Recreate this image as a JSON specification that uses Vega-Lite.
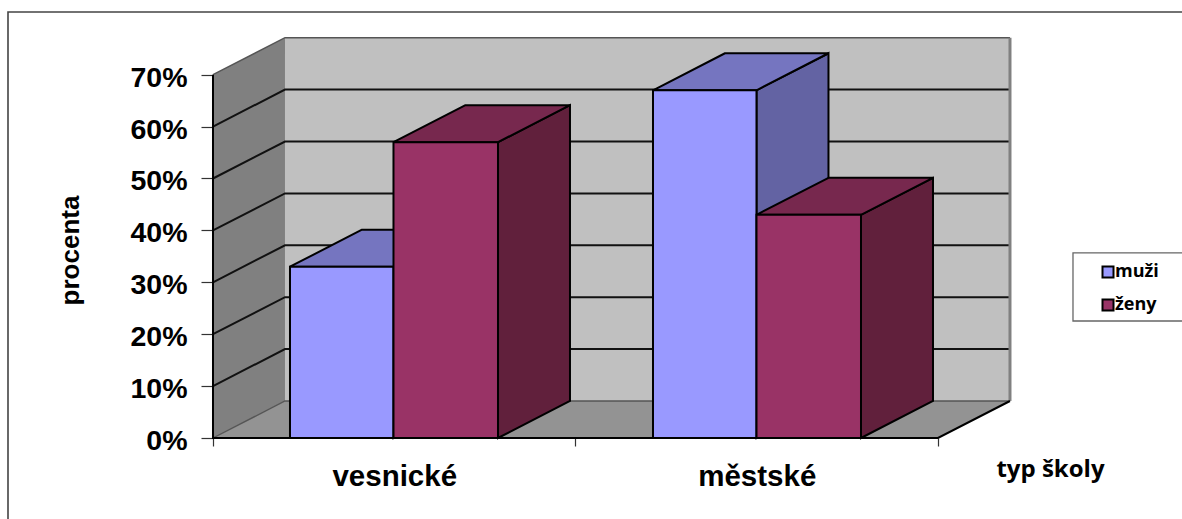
{
"$schema":"https://vega.github.io/schema/vega-lite/v6.json",
"autosize":{"type":"none"},
"padding":{"left":8,"top":12,"right":0,"bottom":0},
"width":1177,"height":510,
"background":"white",
"view":{"stroke":"#444444","strokeWidth":1.6,"fill":"white"},
"datasets":{
"wall":[{"x":0.1986,"x2":2.1986,"y":7.13,"y2":77.13}],
"leftwall":[{"x":0,"y":0,"y2":70},{"x":0.1986,"y":7.13,"y2":77.13}],
"floor":[{"y":0,"x":0,"x2":2},{"y":7.13,"x":0.1986,"x2":2.1986}],
"grid":[
{"p":10,"n":1,"x":0,"y":10},{"p":10,"n":2,"x":0.1986,"y":17.13},{"p":10,"n":3,"x":2.1986,"y":17.13},
{"p":20,"n":1,"x":0,"y":20},{"p":20,"n":2,"x":0.1986,"y":27.13},{"p":20,"n":3,"x":2.1986,"y":27.13},
{"p":30,"n":1,"x":0,"y":30},{"p":30,"n":2,"x":0.1986,"y":37.13},{"p":30,"n":3,"x":2.1986,"y":37.13},
{"p":40,"n":1,"x":0,"y":40},{"p":40,"n":2,"x":0.1986,"y":47.13},{"p":40,"n":3,"x":2.1986,"y":47.13},
{"p":50,"n":1,"x":0,"y":50},{"p":50,"n":2,"x":0.1986,"y":57.13},{"p":50,"n":3,"x":2.1986,"y":57.13},
{"p":60,"n":1,"x":0,"y":60},{"p":60,"n":2,"x":0.1986,"y":67.13},{"p":60,"n":3,"x":2.1986,"y":67.13}],
"outline":[
{"p":70,"n":1,"x":0,"y":70},{"p":70,"n":2,"x":0.1986,"y":77.13},{"p":70,"n":3,"x":2.1986,"y":77.13},
{"p":0,"n":1,"x":0,"y":0},{"p":0,"n":2,"x":0.1986,"y":7.13},{"p":0,"n":3,"x":2.1986,"y":7.13}],
"rightedge":[{"x":2.1986,"y":7.13},{"x":2.1986,"y":77.13}],
"edges":[
{"e":"a","n":1,"x":0,"y":70},{"e":"a","n":2,"x":0,"y":0},{"e":"a","n":3,"x":2,"y":0},{"e":"a","n":4,"x":2.1986,"y":7.13}],
"sides":[
{"s":"A","pohlavi":"muži","x":0.4979,"y":0,"y2":33},{"s":"A","pohlavi":"muži","x":0.6965,"y":7.13,"y2":40.13},
{"s":"B","pohlavi":"ženy","x":0.7862,"y":0,"y2":57},{"s":"B","pohlavi":"ženy","x":0.9848,"y":7.13,"y2":64.13},
{"s":"C","pohlavi":"muži","x":1.4993,"y":0,"y2":67},{"s":"C","pohlavi":"muži","x":1.6979,"y":7.13,"y2":74.13},
{"s":"D","pohlavi":"ženy","x":1.7876,"y":0,"y2":43},{"s":"D","pohlavi":"ženy","x":1.9862,"y":7.13,"y2":50.13}],
"tops":[
{"s":"A","pohlavi":"muži","y":33,"x":0.2124,"x2":0.4979},{"s":"A","pohlavi":"muži","y":40.13,"x":0.411,"x2":0.6965},
{"s":"B","pohlavi":"ženy","y":57,"x":0.4979,"x2":0.7862},{"s":"B","pohlavi":"ženy","y":64.13,"x":0.6965,"x2":0.9848},
{"s":"C","pohlavi":"muži","y":67,"x":1.2138,"x2":1.4993},{"s":"C","pohlavi":"muži","y":74.13,"x":1.4124,"x2":1.6979},
{"s":"D","pohlavi":"ženy","y":43,"x":1.4993,"x2":1.7876},{"s":"D","pohlavi":"ženy","y":50.13,"x":1.6979,"x2":1.9862}],
"fronts":[
{"skola":"vesnické","pohlavi":"muži","x":0.2124,"x2":0.4979,"y":0,"y2":33},
{"skola":"vesnické","pohlavi":"ženy","x":0.4979,"x2":0.7862,"y":0,"y2":57},
{"skola":"městské","pohlavi":"muži","x":1.2138,"x2":1.4993,"y":0,"y2":67},
{"skola":"městské","pohlavi":"ženy","x":1.4993,"x2":1.7876,"y":0,"y2":43}],
"legendbox":[{"x":2.3724,"x2":2.76,"y":22.54,"y2":35.65}]
},
"encoding":{
"x":{"field":"x","type":"quantitative","scale":{"domain":[-0.5655,2.6814],"nice":false,"zero":false},
 "axis":{"orient":"bottom","offset":-84,"grid":false,"domain":false,"values":[0,0.5,1,1.5,2],
  "labelExpr":"datum.value==0.5?'vesnické':datum.value==1.5?'městské':''",
  "tickOpacity":{"condition":{"test":"datum.value==0.5||datum.value==1.5","value":0},"value":1},
  "tickColor":"#333333","tickWidth":1.2,"tickSize":8,"labelPadding":30,"labelBaseline":"middle","labelFont":"Liberation Sans","labelFontWeight":"bold","labelFontSize":29.5,"labelColor":"#000000","labelFlush":false,"labelOverlap":false,
  "title":"typ školy","titleFont":"Open Sans","titleFontWeight":"bold","titleFontSize":24,"titleColor":"#000000","titleX":1042,"titleY":31,"titleAlign":"center","titleBaseline":"middle","titleAnchor":null}},
"y":{"field":"y","type":"quantitative","scale":{"domain":[-16.185,82.08],"nice":false,"zero":false},
 "axis":{"orient":"left","offset":-205,"grid":false,"domain":false,"values":[0,10,20,30,40,50,60,70],
  "labelExpr":"datum.value+'%'","tickColor":"#333333","tickWidth":1.2,"tickSize":12,"labelPadding":14,"labelOffset":2.5,"labelFont":"Liberation Sans","labelFontWeight":"bold","labelFontSize":28.5,"labelColor":"#000000","labelOverlap":false,
  "title":"procenta","titleFont":"Liberation Sans","titleFontWeight":"bold","titleFontSize":26,"titleColor":"#000000","titleAngle":-90,"titleX":-143,"titleY":238,"titleAlign":"center","titleBaseline":"middle"}}
},
"layer":[
{"data":{"name":"wall"},"mark":{"type":"rect","fill":"#c0c0c0"},"encoding":{"x2":{"field":"x2"},"y2":{"field":"y2"}}},
{"data":{"name":"leftwall"},"mark":{"type":"area","orient":"vertical","fill":"#808080","opacity":1},"encoding":{"y2":{"field":"y2"}}},
{"data":{"name":"floor"},"mark":{"type":"area","orient":"horizontal","fill":"#939393","opacity":1},"encoding":{"x2":{"field":"x2"}}},
{"data":{"name":"grid"},"mark":{"type":"line","stroke":"#111111","strokeWidth":2},"encoding":{"detail":{"field":"p"},"order":{"field":"n"}}},
{"data":{"name":"outline"},"mark":{"type":"line","stroke":"#555555","strokeWidth":1.4},"encoding":{"detail":{"field":"p"},"order":{"field":"n"}}},
{"data":{"name":"rightedge"},"mark":{"type":"line","stroke":"#808080","strokeWidth":3},"encoding":{}},
{"data":{"name":"edges"},"mark":{"type":"line","stroke":"#000000","strokeWidth":2},"encoding":{"detail":{"field":"e"},"order":{"field":"n"}}},
{"data":{"name":"sides"},"mark":{"type":"area","orient":"vertical","stroke":"#000000","strokeWidth":2,"opacity":1},"encoding":{"y2":{"field":"y2"},"detail":{"field":"s"},
 "color":{"field":"pohlavi","type":"nominal","legend":null,"scale":{"domain":["muži","ženy"],"range":["#6363a3","#61203c"]}}}},
{"data":{"name":"tops"},"mark":{"type":"area","orient":"horizontal","stroke":"#000000","strokeWidth":2,"opacity":1},"encoding":{"x2":{"field":"x2"},"detail":{"field":"s"},
 "color":{"field":"pohlavi","type":"nominal","legend":null,"scale":{"domain":["muži","ženy"],"range":["#7575c0","#77284e"]}}}},
{"data":{"name":"legendbox"},"mark":{"type":"rect","fill":"#ffffff","stroke":"#666666","strokeWidth":1.3},"encoding":{"x2":{"field":"x2"},"y2":{"field":"y2"}}},
{"data":{"name":"fronts"},"mark":{"type":"rect","stroke":"#000000","strokeWidth":2,"opacity":1},"encoding":{"x2":{"field":"x2"},"y2":{"field":"y2"},
 "color":{"field":"pohlavi","type":"nominal","scale":{"domain":["muži","ženy"],"range":["#9999ff","#993366"]},
  "legend":{"orient":"none","legendX":1091,"legendY":251,"padding":0,"title":null,"symbolType":"square","symbolSize":121,"symbolStrokeColor":"#000000","symbolStrokeWidth":2,"symbolOpacity":1,"labelFont":"Open Sans","labelFontWeight":"bold","labelFontSize":18,"labelColor":"#000000","labelOffset":-2,"rowPadding":13}}}}
],
"resolve":{"scale":{"color":"independent"}}
}
